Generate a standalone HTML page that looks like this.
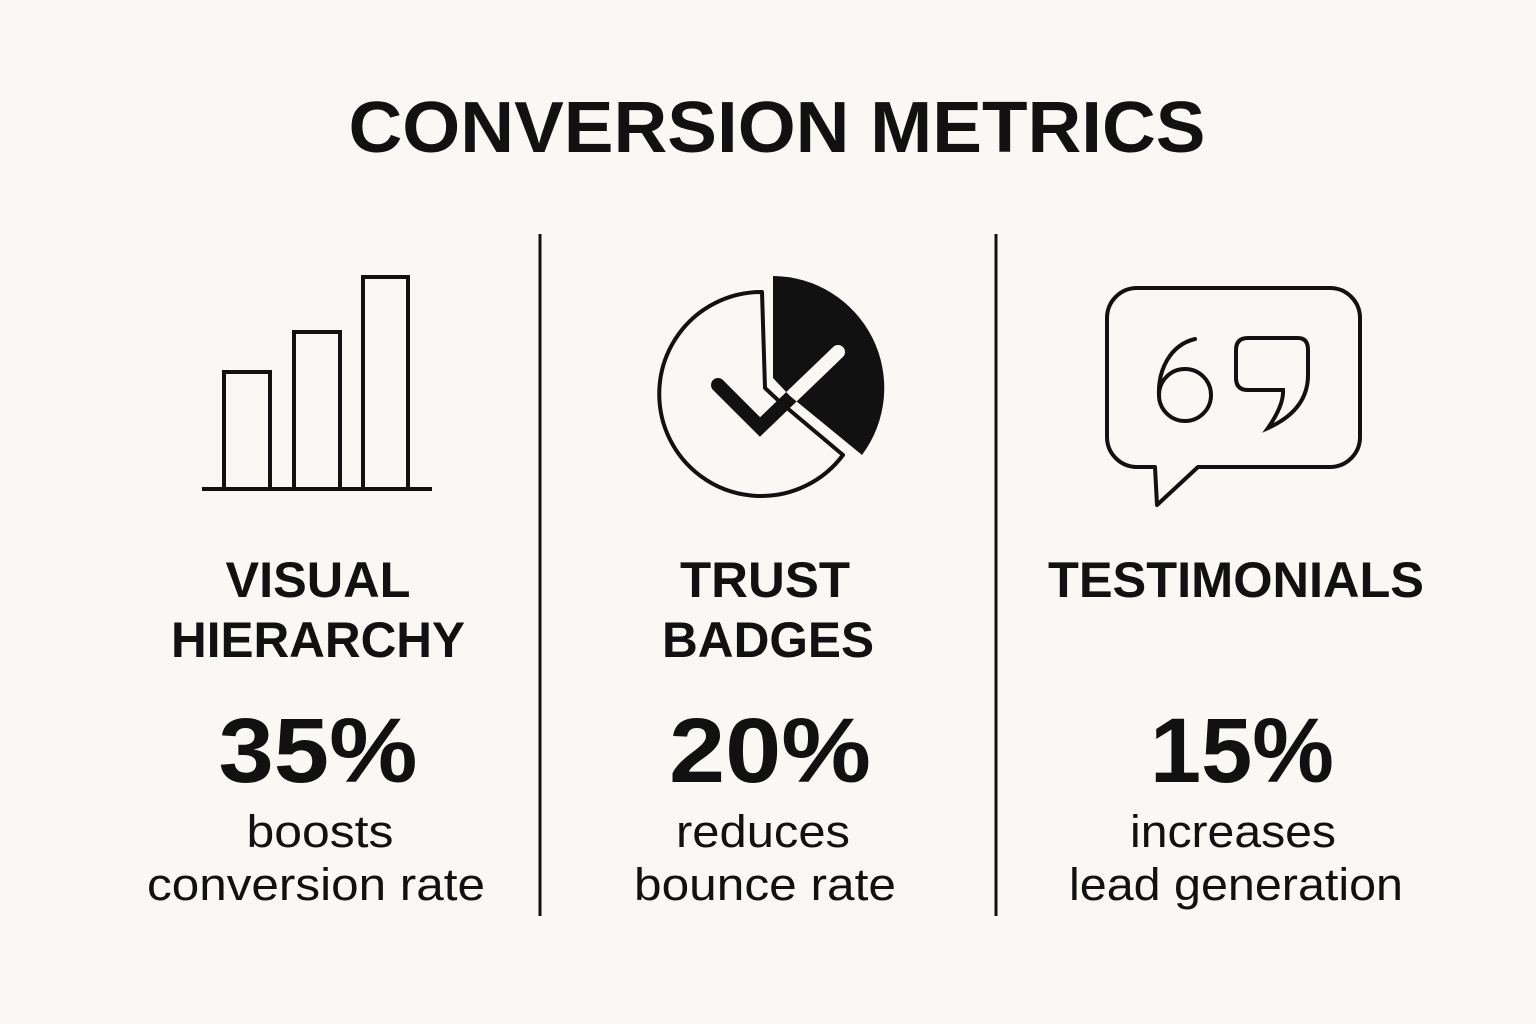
<!DOCTYPE html>
<html><head><meta charset="utf-8"><style>
html,body{margin:0;padding:0;background:#f9f8f4;}
svg{display:block}
text{font-family:"Liberation Sans",sans-serif;fill:#111;}
.h{font-weight:bold;font-size:50px;}
.n{font-weight:bold;font-size:92px;}
.d{font-size:45px;}
</style></head><body>
<svg width="1536" height="1024" viewBox="0 0 1536 1024">
<defs><clipPath id="cw"><path d="M773 276 A112 112 0 0 1 862 455 L790 396 L773 378 Z"/></clipPath></defs>
<rect width="1536" height="1024" fill="#f9f8f4"/>
<text x="777" y="152" text-anchor="middle" font-weight="bold" font-size="72" textLength="857" lengthAdjust="spacingAndGlyphs">CONVERSION METRICS</text>
<line x1="540" y1="234" x2="540" y2="916" stroke="#111" stroke-width="3"/>
<line x1="996" y1="234" x2="996" y2="916" stroke="#111" stroke-width="3"/>
<g fill="none" stroke="#111" stroke-width="4">
<line x1="202" y1="489" x2="432" y2="489"/>
<rect x="224" y="372" width="46" height="117"/>
<rect x="294" y="332" width="46" height="157"/>
<rect x="363" y="277" width="45" height="212"/>
</g>
<path d="M773 276 A112 112 0 0 1 862 455 L790 396 L773 378 Z" fill="#111"/>
<path d="M762 292 A102 102 0 1 0 843 455 L780 402 L765 388 Z" fill="none" stroke="#111" stroke-width="4" stroke-linejoin="round"/>
<path d="M718 385 L760 427 L838 352" fill="none" stroke="#111" stroke-width="14" stroke-linecap="round" stroke-linejoin="miter"/>
<path d="M718 385 L760 427 L838 352" fill="none" stroke="#f9f8f4" stroke-width="14" stroke-linecap="round" clip-path="url(#cw)"/>
<path d="M780 402 L850 458" fill="none" stroke="#f9f8f4" stroke-width="4" clip-path="url(#cw)"/>
<path d="M1137 288 H1330 A30 30 0 0 1 1360 318 V437 A30 30 0 0 1 1330 467 H1198 L1157 505 L1155 467 H1137 A30 30 0 0 1 1107 437 V318 A30 30 0 0 1 1137 288 Z" fill="none" stroke="#111" stroke-width="4" stroke-linejoin="round"/>
<g fill="none" stroke="#111" stroke-width="4" stroke-linecap="round">
<circle cx="1185" cy="395" r="26"/>
<path d="M1195 339 C1170 345 1158 370 1159 395"/>
<path d="M1248 338 H1298 Q1308 338 1308 350 V375 Q1308 410 1268 428 Q1284 405 1283 390 H1248 Q1236 390 1236 378 V350 Q1236 338 1248 338 Z"/>
</g>
<text class="h" x="318" y="597" text-anchor="middle" textLength="185" lengthAdjust="spacingAndGlyphs">VISUAL</text>
<text class="h" x="318" y="657" text-anchor="middle" textLength="294" lengthAdjust="spacingAndGlyphs">HIERARCHY</text>
<text class="n" x="318" y="782" text-anchor="middle" textLength="199" lengthAdjust="spacingAndGlyphs">35%</text>
<text class="d" x="320" y="847" text-anchor="middle" textLength="147" lengthAdjust="spacingAndGlyphs">boosts</text>
<text class="d" x="316" y="900" text-anchor="middle" textLength="338" lengthAdjust="spacingAndGlyphs">conversion rate</text>
<text class="h" x="765" y="597" text-anchor="middle" textLength="170" lengthAdjust="spacingAndGlyphs">TRUST</text>
<text class="h" x="768" y="657" text-anchor="middle" textLength="212" lengthAdjust="spacingAndGlyphs">BADGES</text>
<text class="n" x="770" y="782" text-anchor="middle" textLength="202" lengthAdjust="spacingAndGlyphs">20%</text>
<text class="d" x="763" y="847" text-anchor="middle" textLength="174" lengthAdjust="spacingAndGlyphs">reduces</text>
<text class="d" x="765" y="900" text-anchor="middle" textLength="262" lengthAdjust="spacingAndGlyphs">bounce rate</text>
<text class="h" x="1236" y="597" text-anchor="middle" textLength="376" lengthAdjust="spacingAndGlyphs">TESTIMONIALS</text>
<text class="n" x="1242" y="782" text-anchor="middle" textLength="184" lengthAdjust="spacingAndGlyphs">15%</text>
<text class="d" x="1233" y="847" text-anchor="middle" textLength="206" lengthAdjust="spacingAndGlyphs">increases</text>
<text class="d" x="1236" y="900" text-anchor="middle" textLength="334" lengthAdjust="spacingAndGlyphs">lead generation</text>
</svg>
</body></html>
